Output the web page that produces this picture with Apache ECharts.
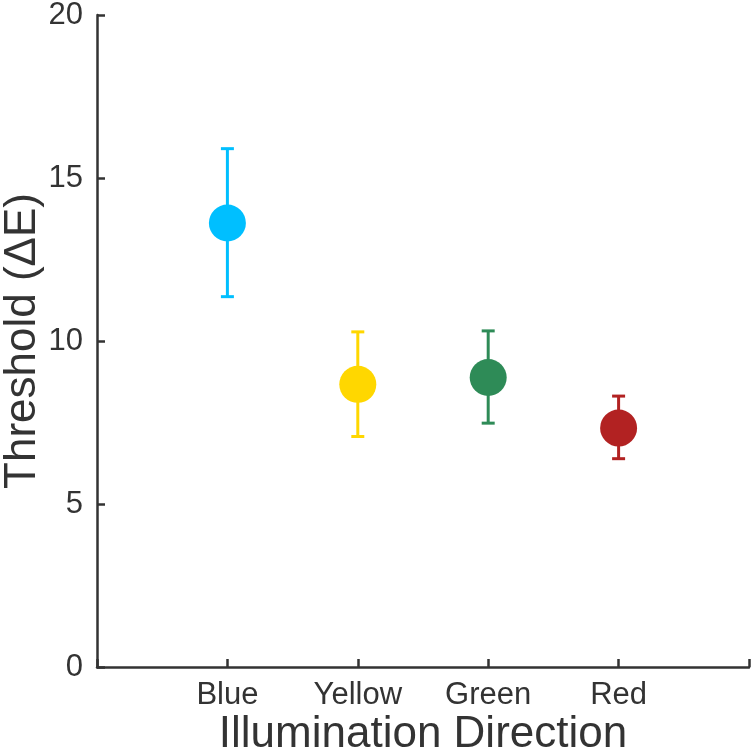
<!DOCTYPE html>
<html>
<head>
<meta charset="utf-8">
<script src="https://cdn.jsdelivr.net/npm/echarts@6/dist/echarts.min.js"></script>
<style>
    html, body { margin: 0; padding: 0; background: #fff; }
    #chart { width: 752px; height: 751px; }
</style>
</head>
<body>
<div id="chart"></div>
<script>
// data
const categories = ['Blue', 'Yellow', 'Green', 'Red']
const thresholds = [13.62, 8.67, 8.88, 7.33]
const upper = [15.9, 10.28, 10.31, 8.31]
const lower = [11.36, 7.07, 7.48, 6.39]
const colors = ['#00BFFF', '#FFD700', '#2E8B57', '#B22222']
const yTicks = [0, 5, 10, 15, 20]

const font = '"Liberation Sans", Arial, Helvetica, sans-serif'
const axisColor = '#333333'

let chart = echarts.init(document.getElementById('chart'))

let pointData = categories.map((c, i) => ({
    value: [i + 1, thresholds[i]],
    itemStyle: { color: colors[i], opacity: 1 },
}))
let errData = categories.map((c, i) => [i + 1, lower[i], upper[i]])

let option = {
    animation: false,
    grid: { left: 97, right: 3, top: 15, bottom: 84, outerBoundsMode: 'none', containLabel: false },
    xAxis: {
        type: 'value',
        min: 0,
        max: 5,
        interval: 1,
        splitLine: { show: false },
        axisLine: { show: true, lineStyle: { color: axisColor, width: 2.5 } },
        axisTick: { show: true, inside: true, length: 8, lineStyle: { color: axisColor, width: 2.5 } },
        axisLabel: {
            margin: 13,
            fontFamily: font,
            fontSize: 31,
            color: axisColor,
            formatter: (v) => categories[v - 1] || '',
        },
        name: 'Illumination Direction',
        nameLocation: 'middle',
        nameGap: 46,
        nameMoveOverlap: false,
        nameTextStyle: { fontFamily: font, fontSize: 44, color: axisColor },
    },
    yAxis: {
        type: 'value',
        min: yTicks[0],
        max: yTicks[yTicks.length - 1],
        interval: 5,
        splitLine: { show: false },
        axisLine: { show: true, lineStyle: { color: axisColor, width: 2.5 } },
        axisTick: { show: true, inside: true, length: 8, lineStyle: { color: axisColor, width: 2.5 } },
        axisLabel: { margin: 14, fontFamily: font, fontSize: 31, color: axisColor },
        name: 'Threshold (\u0394E)',
        nameLocation: 'middle',
        nameGap: 52,
        nameMoveOverlap: false,
        nameTextStyle: { fontFamily: font, fontSize: 44, color: axisColor },
    },
    series: [
        {
            type: 'custom',
            data: errData,
            renderItem: function (params, api) {
                let x = api.value(0)
                let lo = api.coord([x, api.value(1)])
                let hi = api.coord([x, api.value(2)])
                let col = colors[params.dataIndex]
                let cap = 6.5
                let style = { stroke: col, lineWidth: 3 }
                return {
                    type: 'group',
                    children: [
                        { type: 'line', shape: { x1: lo[0], y1: lo[1], x2: hi[0], y2: hi[1] }, style: style },
                        { type: 'line', shape: { x1: lo[0] - cap, y1: lo[1], x2: lo[0] + cap, y2: lo[1] }, style: style },
                        { type: 'line', shape: { x1: hi[0] - cap, y1: hi[1], x2: hi[0] + cap, y2: hi[1] }, style: style },
                    ],
                }
            },
            z: 2,
        },
        {
            type: 'scatter',
            data: pointData,
            symbol: 'circle',
            symbolSize: 37,
            z: 3,
        },
    ],
}

chart.setOption(option)
</script>
</body>
</html>
